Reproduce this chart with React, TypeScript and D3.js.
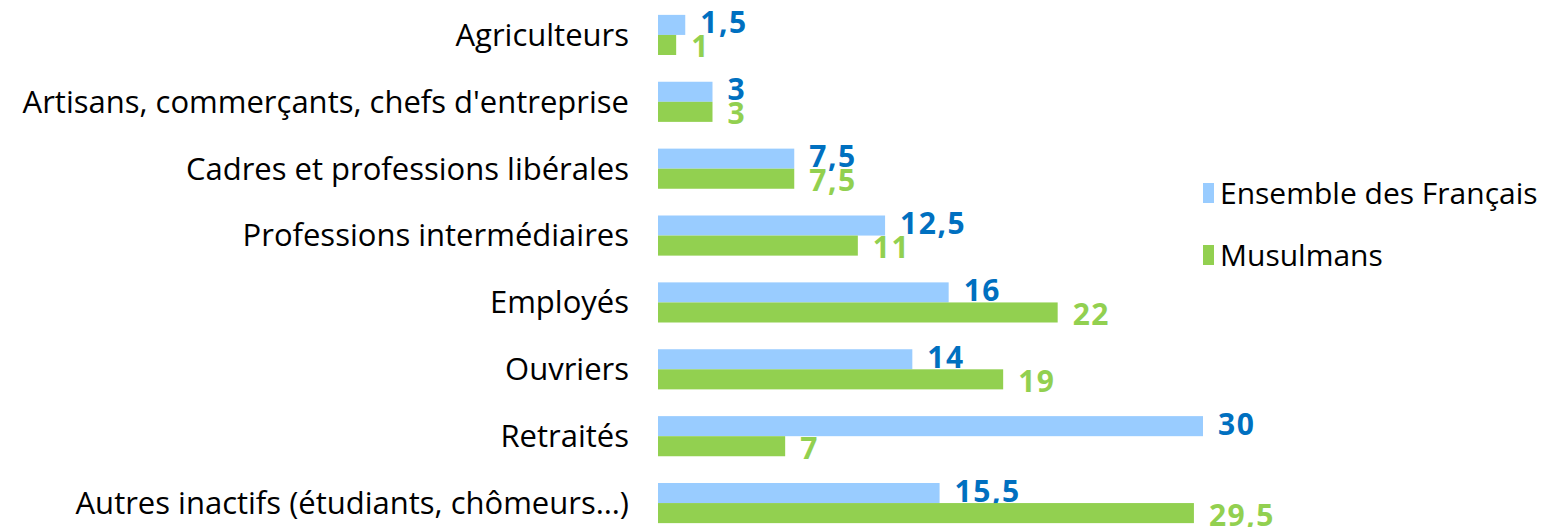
import React, { useEffect, useRef } from 'react';
import * as d3 from 'd3';

// categories and values
const categories = [
  'Agriculteurs',
  "Artisans, commerçants, chefs d'entreprise",
  'Cadres et professions libérales',
  'Professions intermédiaires',
  'Employés',
  'Ouvriers',
  'Retraités',
  'Autres inactifs (étudiants, chômeurs…)',
];
const ensembleValues = [1.5, 3, 7.5, 12.5, 16, 14, 30, 15.5];
const musulmansValues = [1, 3, 7.5, 11, 22, 19, 7, 29.5];
const seriesNames = ['Ensemble des Français', 'Musulmans'];

const App = () => {
  const ref = useRef<SVGSVGElement | null>(null);

  useEffect(() => {
    const width = 1542;
    const height = 527;
    const font = "'Open Sans', sans-serif";
    const blue = '#99CCFF';
    const green = '#92D050';
    const blueText = '#0070C0';

    const svg = d3.select(ref.current);
    svg.selectAll('*').remove();

    // x scale: 30 -> 1203
    const x = d3.scaleLinear().domain([0, 30]).range([658, 1203]);

    const y = d3
      .scaleBand()
      .domain(categories)
      .range([1.5, 536.5])
      .paddingInner(0.4)
      .paddingOuter(0.2);

    const sub = d3.scaleBand().domain(seriesNames).range([0, y.bandwidth()]);

    const rows = categories.map((c, i) => ({
      cat: c,
      vals: [ensembleValues[i], musulmansValues[i]],
    }));

    // libellés des catégories
    svg
      .append('g')
      .selectAll('text')
      .data(categories)
      .enter()
      .append('text')
      .attr('x', 629)
      .attr('y', d => (y(d) as number) + y.bandwidth() / 2)
      .attr('dy', '0.35em')
      .attr('text-anchor', 'end')
      .style('font-family', font)
      .style('font-size', '31px')
      .attr('fill', '#000')
      .text(d => d);

    const fmt = (v: number) => String(v).replace('.', ',');

    seriesNames.forEach((s, si) => {
      const vals = si === 0 ? ensembleValues : musulmansValues;
      const g = svg.append('g');
      g.selectAll('rect')
        .data(rows)
        .enter()
        .append('rect')
        .attr('x', x(0))
        .attr('y', d => (y(d.cat) as number) + (sub(s) as number))
        .attr('width', (d, i) => x(vals[i]) - x(0))
        .attr('height', sub.bandwidth())
        .attr('fill', si === 0 ? blue : green);

      g.selectAll('text')
        .data(rows)
        .enter()
        .append('text')
        .attr('x', (d, i) => x(vals[i]) + 15)
        .attr(
          'y',
          d => (y(d.cat) as number) + (sub(s) as number) + sub.bandwidth() / 2 + (si === 0 ? -2 : 2)
        )
        .attr('dy', '0.35em')
        .style('font-family', font)
        .style('font-size', '30px')
        .style('font-weight', 'bold')
        .style('letter-spacing', '1.5px')
        .attr('fill', si === 0 ? blueText : green)
        .text((d, i) => fmt(vals[i]));
    });

    // légende
    const legend = svg.append('g').attr('transform', 'translate(1203,193)');
    const li = legend
      .selectAll('g')
      .data(seriesNames)
      .enter()
      .append('g')
      .attr('transform', (d, i) => `translate(0,${i * 62})`);
    li.append('rect')
      .attr('x', 0)
      .attr('y', -10)
      .attr('width', 11)
      .attr('height', 20)
      .attr('fill', (d, i) => (i === 0 ? blue : green));
    li.append('text')
      .attr('x', 17)
      .attr('y', 0)
      .attr('dy', '0.35em')
      .style('font-family', font)
      .style('font-size', '30px')
      .attr('fill', '#000')
      .text(d => d);

    svg.attr('width', width).attr('height', height);
  }, []);

  return (
    <svg
      ref={ref}
      width={1542}
      height={527}
      style={{ position: 'absolute', left: 0, top: 0, background: '#fff' }}
    />
  );
};

export default App;
